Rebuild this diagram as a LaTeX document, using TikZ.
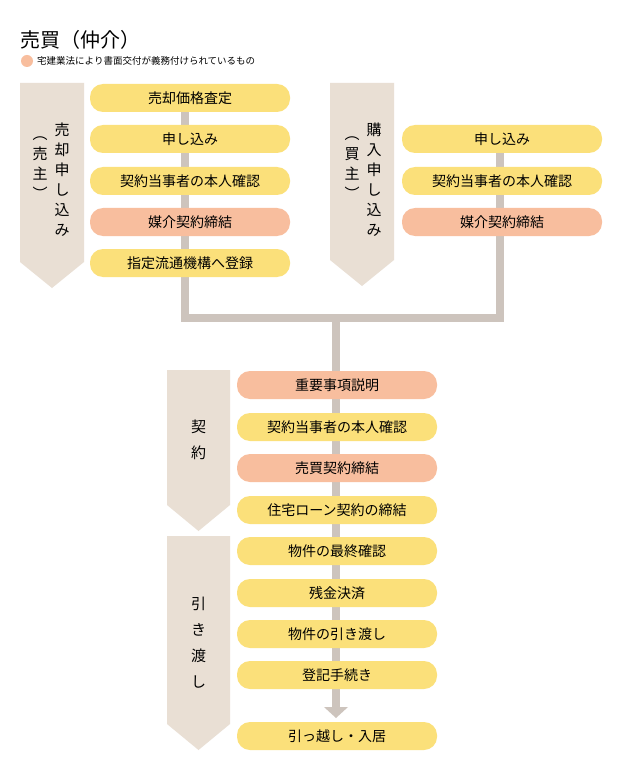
\documentclass[tikz,border=0pt]{standalone}
\usepackage{fontspec}
\setmainfont{Noto Sans CJK JP}
\definecolor{yel}{HTML}{FBE07A}
\definecolor{sal}{HTML}{F8BE9E}
\definecolor{ban}{HTML}{E9DFD4}
\definecolor{lin}{HTML}{CDC4BD}
\begin{document}
\begin{tikzpicture}[x=1pt,y=-1pt,
  box/.style={rounded corners=13pt,minimum width=200pt,minimum height=28pt,inner sep=0pt,font=\fontsize{14}{16}\selectfont},
  y1/.style={box,fill=yel},
  s1/.style={box,fill=sal},
  vt/.style={align=center,font=\fontsize{15}{20}\selectfont,inner sep=0pt},
  conn/.style={draw=lin,line width=8pt}]
\useasboundingbox (0,0) rectangle (620,767);
\fill[white] (0,0) rectangle (620,767);
\node[anchor=west,font=\fontsize{20}{22}\selectfont,inner sep=0pt] (title) at (20,40) {売買（仲介）};
\node[circle,fill=sal,minimum size=12pt,inner sep=0pt] (leg) at (27,61) {};
\node[anchor=west,font=\fontsize{9.5}{11}\selectfont,inner sep=0pt] (legt) at (37,61) {宅建業法により書面交付が義務付けられているもの};
% banners
\fill[ban] (20,83) -- (84,83) -- (84,262) -- (52,288) -- (20,262) -- cycle;
\fill[ban] (330,83) -- (394,83) -- (394,260) -- (362,286) -- (330,260) -- cycle;
\fill[ban] (167,370) -- (230,370) -- (230,505) -- (198.5,531) -- (167,505) -- cycle;
\fill[ban] (167,536) -- (230,536) -- (230,724) -- (198.5,750) -- (167,724) -- cycle;
\node[vt] (b1) at (62,180) {売\\却\\申\\し\\込\\み};
\node[vt] (b1s) at (40,168) {︵\\売\\主\\︶};
\node[vt] (b2) at (374,180) {購\\入\\申\\し\\込\\み};
\node[vt] (b2s) at (352,168) {︵\\買\\主\\︶};
\node[vt,font=\fontsize{15}{26}\selectfont] (b3) at (198.5,440) {契\\約};
\node[vt,font=\fontsize{15}{26}\selectfont] (b4) at (198.5,643) {引\\き\\渡\\し};
% connectors
\coordinate (j1) at (185,318);
\coordinate (j2) at (500,318);
\coordinate (jm) at (336,318);
\coordinate (ae) at (336,707);
\draw[conn] (185,98) -- (j1) -- (j2) -- (500,139);
\draw[conn] (jm) -- (ae);
\fill[lin] (324,707) -- (348,707) -- (336,718) -- cycle;
% left boxes
\node[y1] (l1) at (190,98) {売却価格査定};
\node[y1] (l2) at (190,139) {申し込み};
\node[y1] (l3) at (190,181) {契約当事者の本人確認};
\node[s1] (l4) at (190,222) {媒介契約締結};
\node[y1] (l5) at (190,263) {指定流通機構へ登録};
\node[y1] (r1) at (502,139) {申し込み};
\node[y1] (r2) at (502,181) {契約当事者の本人確認};
\node[s1] (r3) at (502,222) {媒介契約締結};
\node[s1] (c1) at (337,385) {重要事項説明};
\node[y1] (c2) at (337,427) {契約当事者の本人確認};
\node[s1] (c3) at (337,468) {売買契約締結};
\node[y1] (c4) at (337,510) {住宅ローン契約の締結};
\node[y1] (c5) at (337,551) {物件の最終確認};
\node[y1] (c6) at (337,593) {残金決済};
\node[y1] (c7) at (337,634) {物件の引き渡し};
\node[y1] (c8) at (337,675) {登記手続き};
\node[y1] (c9) at (337,736) {引っ越し・入居};
\end{tikzpicture}
\end{document}
